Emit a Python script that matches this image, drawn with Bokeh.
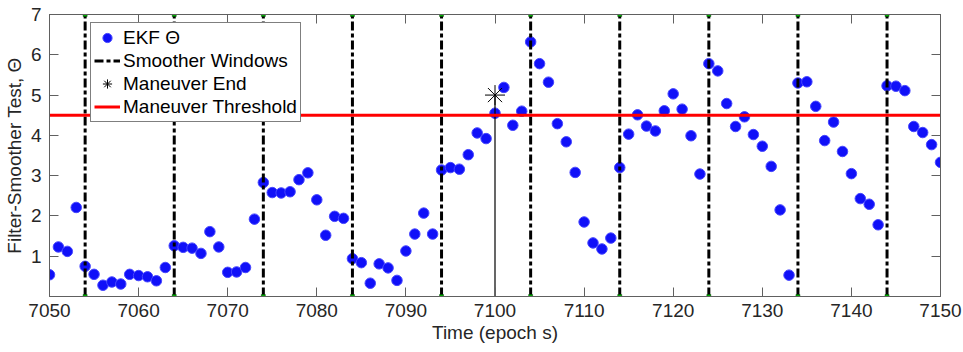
from bokeh.plotting import figure
from bokeh.models import Range1d, FixedTicker, LinearAxis, Legend, LegendItem, ColumnDataSource
from bokeh.embed import file_html
from bokeh.resources import INLINE

# ---------------- data ----------------
time = list(range(7050, 7151))
theta = [
    0.54, 1.23, 1.12, 2.21, 0.75, 0.55, 0.28, 0.36, 0.31, 0.55,
    0.52, 0.49, 0.39, 0.72, 1.26, 1.22, 1.20, 1.07, 1.61, 1.23,
    0.60, 0.61, 0.72, 1.92, 2.83, 2.58, 2.57, 2.60, 2.90, 3.07,
    2.40, 1.52, 1.99, 1.94, 0.94, 0.84, 0.33, 0.81, 0.71, 0.40,
    1.13, 1.55, 2.07, 1.55, 3.14, 3.20, 3.16, 3.52, 4.06, 3.92,
    4.55, 5.19, 4.25, 4.60, 6.32, 5.78, 5.32, 4.29, 3.84, 3.08,
    1.85, 1.33, 1.18, 1.45, 3.20, 4.03, 4.51, 4.23, 4.11, 4.61,
    5.03, 4.65, 3.99, 3.04, 5.78, 5.60, 4.79, 4.22, 4.46, 4.02,
    3.73, 3.23, 2.15, 0.53, 5.30, 5.33, 4.72, 3.87, 4.33, 3.60,
    3.05, 2.43, 2.29, 1.78, 5.23, 5.22, 5.11, 4.22, 4.07, 3.77,
    3.33,
]
windows = [7054, 7064, 7074, 7084, 7094, 7104, 7114, 7124, 7134, 7144]
maneuver_end_t = [7100]
maneuver_end_val = [5.0]
threshold = 4.5
x_lo, x_hi = 7050, 7150
y_lo, y_hi = 0, 7
x_ticks = list(range(7050, 7151, 10))
y_ticks = [1, 2, 3, 4, 5, 6, 7]

FONT = "Liberation Sans"
FS = "19px"
TXT = "#262626"
FRAME = "#606060"

p = figure(width=963, height=352, output_backend="svg", toolbar_location=None,
           x_range=Range1d(x_lo, x_hi), y_range=Range1d(y_lo, y_hi),
           min_border_left=46, min_border_right=23, min_border_top=14, min_border_bottom=56)
p.xgrid.visible = False
p.ygrid.visible = False
p.outline_line_color = FRAME
p.outline_line_width = 1
p.background_fill_color = "white"
p.border_fill_color = "white"

# axes
p.xaxis.ticker = FixedTicker(ticks=x_ticks)
p.yaxis.ticker = FixedTicker(ticks=y_ticks)
for ax in (p.xaxis[0], p.yaxis[0]):
    ax.major_tick_in = 9
    ax.major_tick_out = 0
    ax.minor_tick_in = 0
    ax.minor_tick_out = 0
    ax.major_tick_line_color = FRAME
    ax.axis_line_color = FRAME
    ax.major_label_text_font = FONT
    ax.major_label_text_font_size = FS
    ax.major_label_text_color = TXT
    ax.axis_label_text_font = FONT
    ax.axis_label_text_font_size = FS
    ax.axis_label_text_font_style = "normal"
    ax.axis_label_text_color = TXT
p.xaxis.axis_label = "Time (epoch s)"
p.yaxis.axis_label = "Filter-Smoother Test, \u0398"
p.xaxis.major_label_standoff = 7
p.xaxis.axis_label_standoff = 2
p.yaxis.major_label_standoff = 8
p.yaxis.axis_label_standoff = 3

for ticks, place in ((x_ticks, "above"), (y_ticks, "right")):
    ax = LinearAxis(ticker=FixedTicker(ticks=ticks),
                    major_label_overrides={t: "" for t in ticks},
                    major_tick_in=9, major_tick_out=0, minor_tick_in=0, minor_tick_out=0,
                    major_tick_line_color=FRAME, axis_line_color=FRAME,
                    major_label_standoff=0, major_label_text_font_size="1px")
    p.add_layout(ax, place)

# data points
pts = p.scatter(time, theta, size=10.5, fill_color="#1010f8", line_color="#4646ff",
                line_width=1)

# smoother windows
win_src = ColumnDataSource(dict(x=windows, y0=[y_lo] * len(windows), y1=[y_hi] * len(windows)))
win = p.segment(x0="x", y0="y0", x1="x", y1="y1", source=win_src,
                line_color="black", line_width=3, line_dash="9 3 4 3")
p.scatter(x="x", y="y0", source=win_src, marker="square", size=4,
          fill_color="#00b000", line_color="#004000", line_width=0.5)
p.scatter(x="x", y="y1", source=win_src, marker="square", size=4,
          fill_color="#00b000", line_color="#004000", line_width=0.5)

# maneuver end
p.segment(x0=maneuver_end_t, y0=[y_lo], x1=maneuver_end_t, y1=maneuver_end_val,
          line_color="black", line_width=1.2)
star = p.scatter(maneuver_end_t, maneuver_end_val, marker="asterisk", size=20,
                 line_color="black", line_width=1)

# threshold
thr = p.segment(x0=[x_lo], y0=[threshold], x1=[x_hi], y1=[threshold],
                line_color="#ff0000", line_width=3)

legend = Legend(items=[
    LegendItem(label="EKF \u0398", renderers=[pts]),
    LegendItem(label="Smoother Windows", renderers=[win]),
    LegendItem(label="Maneuver End", renderers=[star]),
    LegendItem(label="Maneuver Threshold", renderers=[thr]),
], location=(41, 174))
legend.label_text_font = FONT
legend.label_text_font_size = FS
legend.label_text_color = "black"
legend.border_line_color = "black"
legend.border_line_width = 1
legend.background_fill_color = "white"
legend.background_fill_alpha = 1
legend.glyph_width = 26
legend.glyph_height = 23
legend.label_height = 23
legend.padding = 3
legend.spacing = 0
legend.margin = 0
legend.label_standoff = 3
p.add_layout(legend)

open("out.html", "w").write(file_html(p, INLINE))
